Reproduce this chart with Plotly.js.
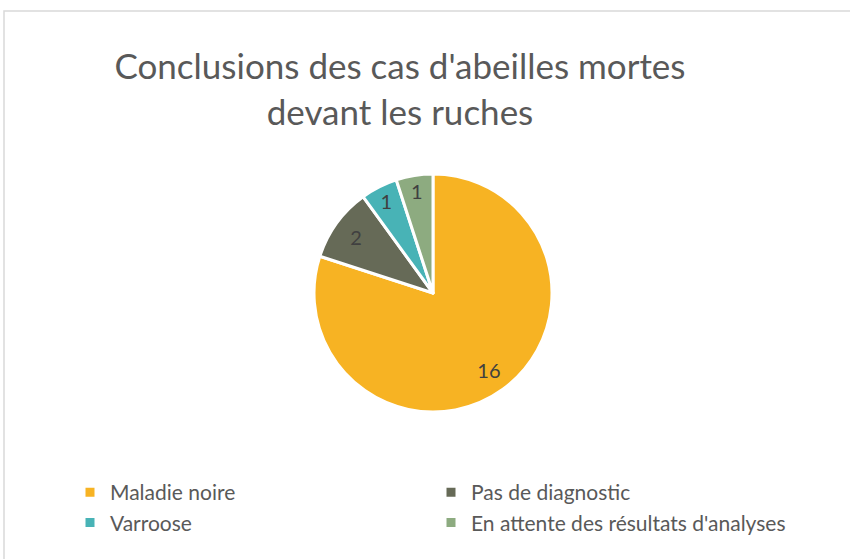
<!DOCTYPE html>
<html>
<head>
<meta charset="utf-8">
<script src="https://cdn.plot.ly/plotly-3.0.1.min.js"></script>
<style>html,body{margin:0;padding:0;background:#fff;} #chart{width:850px;height:559px;}</style>
</head>
<body>
<div id="chart"></div>
<script>
const categories = ["Maladie noire", "Pas de diagnostic", "Varroose", "En attente des résultats d'analyses"];
const values = [16, 2, 1, 1];
const colors = ["#F7B323", "#666A57", "#48B3B6", "#8DAB80"];
const titleText = "Conclusions des cas d'abeilles mortes<br>devant les ruches";

const W = 850, H = 559;
const FONT = "Lato, 'Open Sans', sans-serif";
const pieDomain = { x: [314 / W, 552 / W], y: [1 - 412 / H, 1 - 174 / H] };

// Main pie: slices and legend
const pieTrace = {
  type: "pie",
  labels: categories,
  values: values,
  sort: false,
  direction: "clockwise",
  rotation: 0,
  marker: { colors: colors, line: { color: "#ffffff", width: 3 } },
  textinfo: "none",
  domain: pieDomain,
  hoverinfo: "label+value"
};

// Transparent ring drawn over the pie only to place the value labels at ~80% radius
const labelTrace = {
  type: "pie",
  labels: categories,
  values: values,
  sort: false,
  direction: "clockwise",
  rotation: 0,
  hole: 0.6,
  showlegend: false,
  marker: { colors: ["rgba(0,0,0,0)", "rgba(0,0,0,0)", "rgba(0,0,0,0)", "rgba(0,0,0,0)"], line: { width: 0 } },
  textinfo: "value",
  textposition: "inside",
  insidetextorientation: "horizontal",
  textfont: { family: FONT, size: 20, color: "#404040" },
  domain: pieDomain,
  hoverinfo: "skip"
};

const layout = {
  width: W, height: H,
  margin: { l: 0, r: 0, t: 0, b: 0 },
  paper_bgcolor: "#ffffff",
  title: {
    text: titleText,
    font: { family: FONT, size: 35, color: "#595959" },
    x: 400 / W, xanchor: "center",
    y: 1 - 79 / H, yanchor: "top"
  },
  showlegend: true,
  legend: {
    orientation: "h",
    x: 70 / W, xanchor: "left",
    y: 1 - 472 / H, yanchor: "top",
    entrywidth: 316, entrywidthmode: "pixels",
    itemwidth: 30,
    font: { family: FONT, size: 21, color: "#595959" },
    bgcolor: "rgba(0,0,0,0)"
  },
  shapes: [{
    type: "rect", xref: "paper", yref: "paper",
    x0: 4 / W, x1: 1.05, y0: -0.05, y1: 1 - 11 / H,
    line: { color: "#D9D9D9", width: 1.5 }, fillcolor: "rgba(0,0,0,0)", layer: "below"
  }]
};

Plotly.newPlot("chart", [pieTrace, labelTrace], layout, { displayModeBar: false, staticPlot: true });
</script>
</body>
</html>
